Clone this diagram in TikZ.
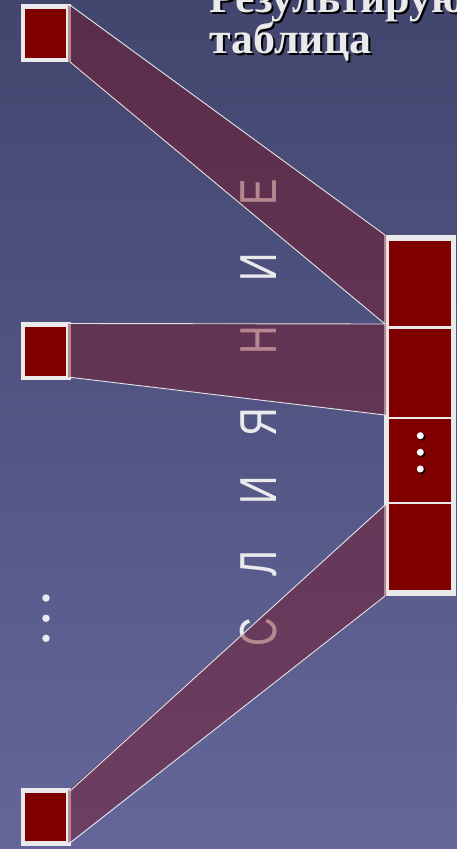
\documentclass[tikz,border=0pt]{standalone}
\usepackage{fontspec}
\setmainfont{Liberation Serif}
\newfontfamily\lettersfont{Liberation Sans}
\definecolor{bgtop}{RGB}{66,70,110}
\definecolor{bgbot}{RGB}{100,102,154}
\definecolor{cellred}{RGB}{128,0,0}
\definecolor{framewhite}{RGB}{234,234,236}
\definecolor{bandfill}{RGB}{120,15,30}
\definecolor{edgewhite}{RGB}{228,228,232}
\tikzset{
  srcbox/.style={draw=framewhite,fill=cellred,line width=4.5pt,minimum width=45.5pt,minimum height=53.2pt,inner sep=0pt},
  cellbox/.style={fill=cellred,minimum width=62pt,inner sep=0pt},
  band/.style={fill=bandfill,fill opacity=0.45},
  bandedge/.style={draw=edgewhite,line width=0.9pt},
  letterstyle/.style={rotate=90,anchor=base,inner sep=0pt,text=framewhite,font=\lettersfont\fontsize{52}{52}\selectfont},
  titlestyle/.style={anchor=base west,inner sep=0pt,font=\bfseries\fontsize{44}{44}\selectfont},
  dotstyle/.style={circle,fill=framewhite,inner sep=0pt,minimum size=7.5pt}
}
\begin{document}
\begin{tikzpicture}[x=1pt,y=-1pt]
\useasboundingbox (0,0) rectangle (457,849);
\clip (0,0) rectangle (457,849);
\shade[top color=bgtop,bottom color=bgbot] (0,0) rectangle (457,849);
% vertical word
\foreach \ch/\yy [count=\i] in {С/632,Л/564,И/490,Я/422,Н/340,И/267,Е/192}{
  \node[letterstyle] (l\i) at (276,\yy) {\scalebox{0.76}[1]{\ch}};
}
% source squares
\node[srcbox] (s1) at (45.7,33.2) {};
\node[srcbox] (s2) at (45.7,351.2) {};
\node[srcbox] (s3) at (45.7,817) {};
% result column
\node[fill=framewhite,minimum width=72pt,minimum height=361pt,inner sep=0pt] (col) at (420,415.5) {};
\node[cellbox,minimum height=85pt] (c1) at (420,283.5) {};
\node[cellbox,minimum height=87.4pt] (c2) at (420,373) {};
\node[cellbox,minimum height=82.7pt] (c3) at (420,460.65) {};
\node[cellbox,minimum height=85.7pt] (c4) at (420,547.15) {};
% bands
\fill[band] (68,5) -- (386,235) -- (386,324) -- (68,62) -- cycle;
\fill[band] (68,323.5) -- (386,324) -- (386,415) -- (68,377.3) -- cycle;
\fill[band] (68,791) -- (386,505) -- (386,596) -- (68,843) -- cycle;
\draw[bandedge] (70,5) -- (385,235);
\draw[bandedge] (70,62) -- (385,324);
\draw[bandedge] (70,323.5) -- (385,324);
\draw[bandedge] (70,377.3) -- (385,415);
\draw[bandedge] (70,791) -- (385,505);
\draw[bandedge] (70,843) -- (385,596);
% left dots
\node[dotstyle] (d1) at (46,598) {};
\node[dotstyle] (d2) at (46,618.3) {};
\node[dotstyle] (d3) at (46,638.3) {};
% dots in cell
\foreach \yy [count=\i] in {435.7,452.3,469}{
  \node[dotstyle,fill=black,minimum size=7pt] (e\i s) at (421.8,\yy+1.5) {};
  \node[dotstyle,fill=white,minimum size=7pt] (e\i) at (420.3,\yy) {};
}
% title
\node[titlestyle,text=black] (t1s) at (211,14) {Результирующая};
\node[titlestyle,text=framewhite] (t1) at (209,12) {Результирующая};
\node[titlestyle,text=black] (t2s) at (211,55.3) {таблица};
\node[titlestyle,text=framewhite] (t2) at (209,53.3) {таблица};
\end{tikzpicture}
\end{document}
